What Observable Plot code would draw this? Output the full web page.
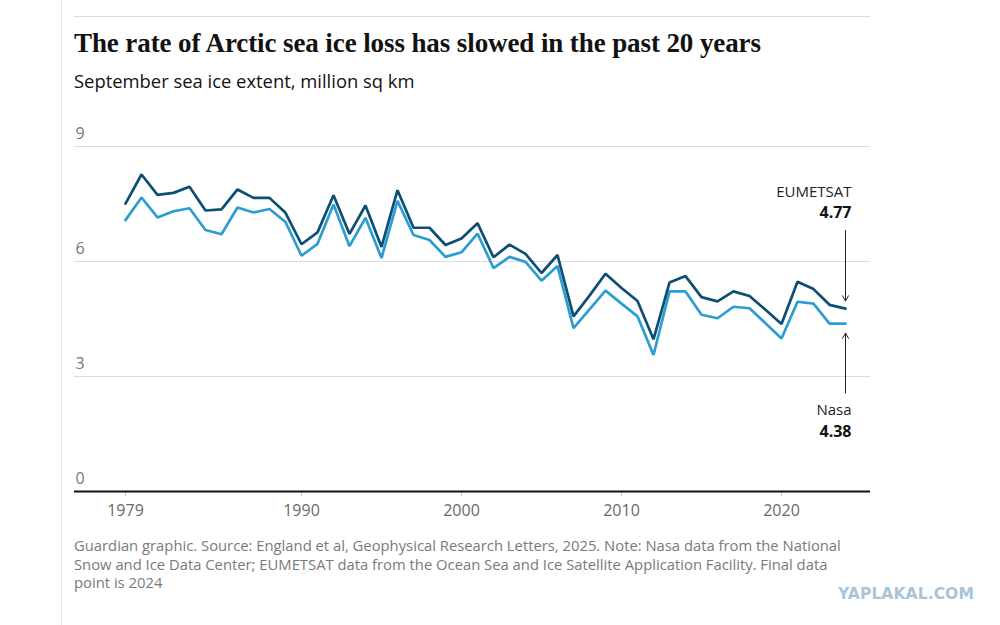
<!DOCTYPE html>
<html>
<head>
<meta charset="utf-8">
<script src="https://cdn.jsdelivr.net/npm/d3@7"></script>
<script src="https://cdn.jsdelivr.net/npm/@observablehq/plot@0.6"></script>
<style>
  html, body { margin: 0; padding: 0; background: #fff; }
  body { width: 1000px; height: 625px; position: relative; overflow: hidden; font-family: "Open Sans", sans-serif; }
  .vline { position: absolute; left: 61px; top: 0; width: 1px; height: 625px; background: #e4e4e4; }
  .hline { position: absolute; left: 74px; top: 16px; width: 796px; height: 1px; background: #dcdcdc; }
  .title { position: absolute; left: 74px; top: 27px; font-family: "Liberation Serif", serif; font-weight: bold; font-size: 27px; line-height: 32px; color: #121212; white-space: nowrap; letter-spacing: -0.1px; }
  .subtitle { position: absolute; left: 74px; top: 69px; font-size: 18.4px; line-height: 24px; color: #121212; white-space: nowrap; }
  #chart { position: absolute; left: 74px; top: 110px; }
  .caption { position: absolute; left: 74px; top: 536px; width: 778px; font-size: 14.8px; line-height: 18.5px; color: #7a7a7a; }
  .mark { position: absolute; left: 838px; top: 585px; font-family: "DejaVu Sans", sans-serif; font-weight: bold; font-size: 15.5px; color: #a9c4d8; letter-spacing: 0.1px; }
</style>
</head>
<body>
<div class="vline"></div>
<div class="hline"></div>
<div class="title">The rate of Arctic sea ice loss has slowed in the past 20 years</div>
<div class="subtitle">September sea ice extent, million sq km</div>
<div id="chart"></div>
<div class="caption">Guardian graphic. Source: England et al, Geophysical Research Letters, 2025. Note: Nasa data from the National Snow and Ice Data Center; EUMETSAT data from the Ocean Sea and Ice Satellite Application Facility. Final data point is 2024</div>
<div class="mark">YAPLAKAL.COM</div>
<script>
const years = d3.range(1979, 2025);
const eumetsat = [7.51, 8.27, 7.74, 7.79, 7.95, 7.33, 7.36, 7.88, 7.66, 7.66,
  7.27, 6.45, 6.76, 7.73, 6.72, 7.46, 6.38, 7.86, 6.88, 6.88,
  6.43, 6.60, 7.00, 6.11, 6.44, 6.20, 5.70, 6.17, 4.57, 5.11,
  5.68, 5.31, 4.97, 3.97, 5.45, 5.62, 5.07, 4.96, 5.22, 5.10,
  4.74, 4.37, 5.47, 5.28, 4.87, 4.77];
const nasa = [7.08, 7.67, 7.15, 7.31, 7.39, 6.82, 6.71, 7.41, 7.28, 7.37,
  7.03, 6.15, 6.46, 7.49, 6.40, 7.14, 6.09, 7.58, 6.69, 6.56,
  6.12, 6.24, 6.73, 5.83, 6.12, 5.99, 5.50, 5.88, 4.26, 4.75,
  5.24, 4.90, 4.57, 3.56, 5.22, 5.22, 4.61, 4.52, 4.82, 4.78,
  4.39, 3.99, 4.95, 4.90, 4.38, 4.38];
const seriesNames = ["Nasa", "EUMETSAT"];
const seriesColors = ["#2b9dd0", "#0c4e74"];
const yTicks = [0, 3, 6, 9];
const xTicks = [1979, 1990, 2000, 2010, 2020];

const rows = [];
years.forEach((y, i) => {
  rows.push({year: y, value: nasa[i], series: "Nasa"});
  rows.push({year: y, value: eumetsat[i], series: "EUMETSAT"});
});
const lastYear = years[years.length - 1];
const labels = [
  {series: "EUMETSAT", year: lastYear, value: eumetsat[eumetsat.length - 1], side: -1},
  {series: "Nasa", year: lastYear, value: nasa[nasa.length - 1], side: 1}
];
const above = labels.filter(d => d.side < 0);
const below = labels.filter(d => d.side > 0);

const chart = Plot.plot({
  width: 796,
  height: 426,
  marginLeft: 0,
  marginRight: 0,
  marginTop: 36,
  marginBottom: 45,
  style: {fontFamily: "Open Sans, sans-serif", background: "transparent", overflow: "visible"},
  x: {domain: [1979, 2024], insetLeft: 51, insetRight: 25},
  y: {domain: [0, 9]},
  color: {domain: seriesNames, range: seriesColors},
  marks: [
    Plot.ruleY(yTicks.filter(d => d > 0), {stroke: "#dcdcdc", strokeWidth: 1}),
    Plot.axisY({ticks: yTicks, tickSize: 0, tickPadding: 0, textAnchor: "start", dx: 1, dy: -13, fontSize: 16, fill: "#777", label: null}),
    Plot.axisX({ticks: xTicks, tickFormat: d => String(d), tickSize: 5, tickPadding: 8, stroke: "#c8c8c8", fontSize: 16, fill: "#6a6a6a", label: null, textStroke: "none"}),
    Plot.ruleY([0], {stroke: "#111", strokeWidth: 2}),
    Plot.line(rows, {x: "year", y: "value", z: "series", stroke: "series", strokeWidth: 2.7, strokeLinejoin: "miter"}),
    Plot.arrow(above, {x1: "year", x2: "year", y1: d => d.value + 2.04, y2: d => d.value + 0.2, stroke: "#222", strokeWidth: 1, headLength: 9}),
    Plot.arrow(below, {x1: "year", x2: "year", y1: d => d.value - 1.81, y2: d => d.value - 0.25, stroke: "#222", strokeWidth: 1, headLength: 9}),
    Plot.text(above, {x: "year", y: "value", text: "series", textAnchor: "end", dx: 6, dy: -116, fontSize: 15, fill: "#222"}),
    Plot.text(above, {x: "year", y: "value", text: d => d.value.toFixed(2), textAnchor: "end", dx: 6, dy: -96, fontSize: 16, fontWeight: "bold", fill: "#121212"}),
    Plot.text(below, {x: "year", y: "value", text: "series", textAnchor: "end", dx: 6, dy: 87, fontSize: 15, fill: "#222"}),
    Plot.text(below, {x: "year", y: "value", text: d => d.value.toFixed(2), textAnchor: "end", dx: 6, dy: 108, fontSize: 16, fontWeight: "bold", fill: "#121212"})
  ]
});
document.getElementById("chart").appendChild(chart);
</script>
</body>
</html>
